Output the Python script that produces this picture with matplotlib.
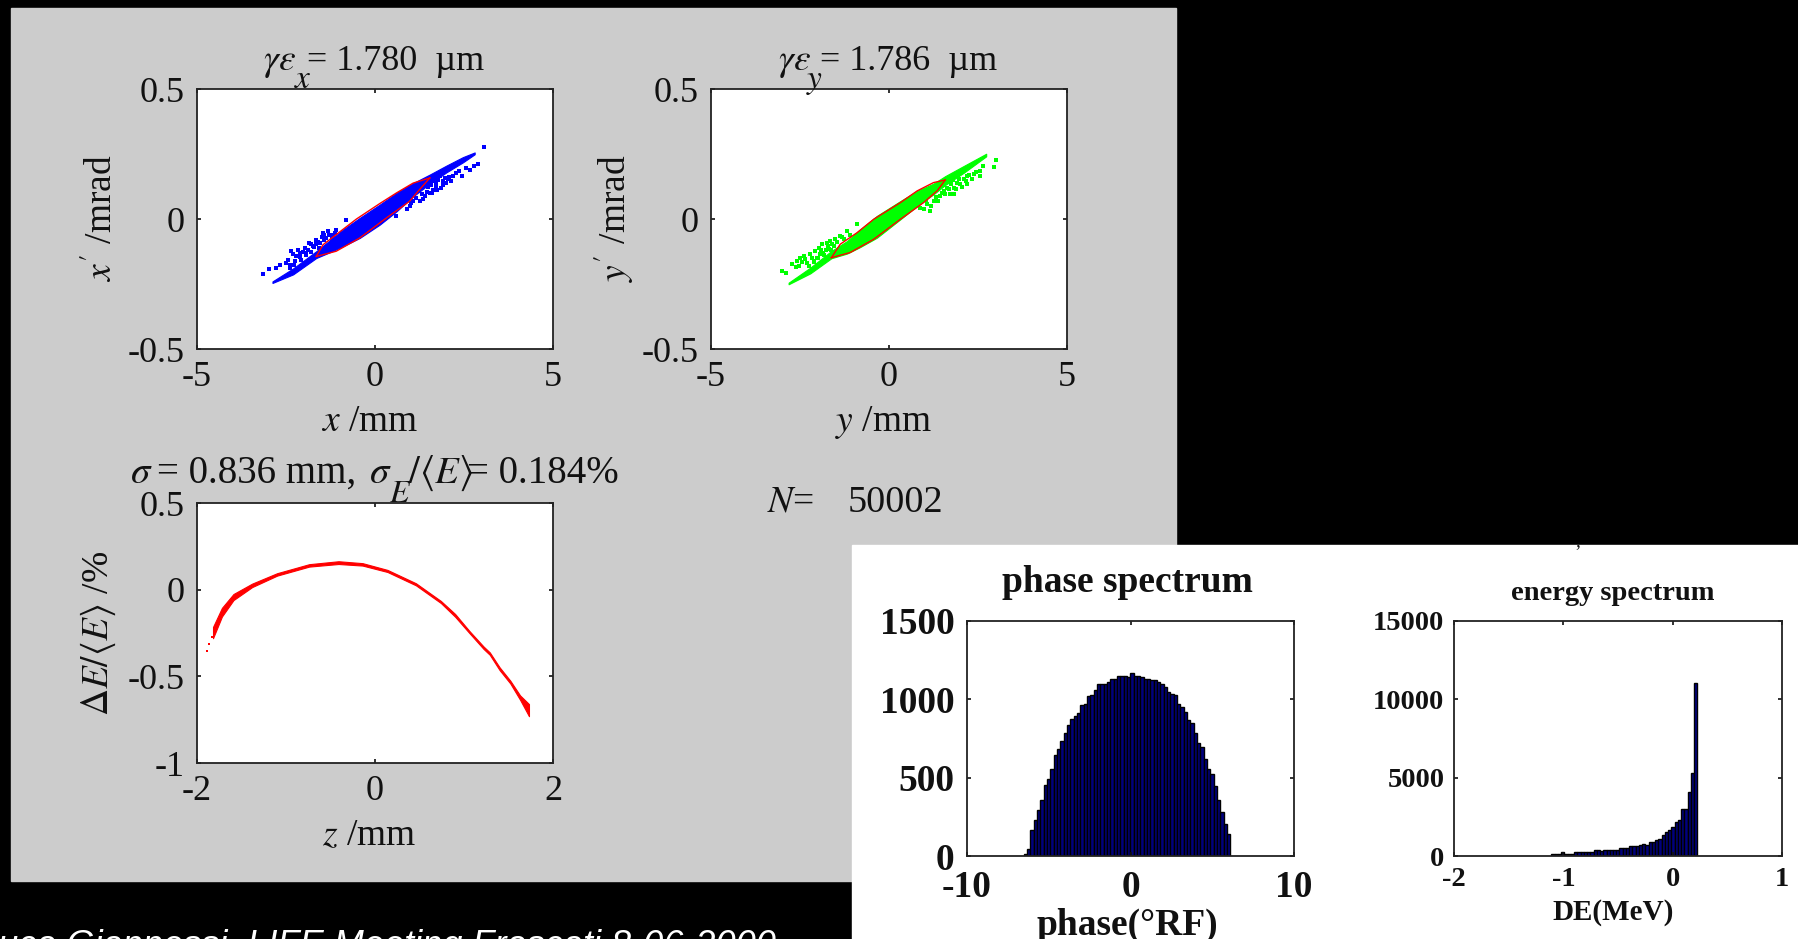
import matplotlib
matplotlib.use('Agg')
import matplotlib.pyplot as plt
from matplotlib.patches import Rectangle
import numpy as np

plt.rcParams['font.family'] = ['Liberation Serif', 'DejaVu Serif']
plt.rcParams['mathtext.fontset'] = 'stix'

W, H = 1798, 939

# x-x' phase space
blue_x = [-2.88, -2.30, -1.65, -1.27, -0.90, -0.43, 0.13, 0.60, 1.07, 1.54, 2.00, 2.47, 2.80]
blue_up = [-0.240, -0.190, -0.124, -0.082, -0.041, 0.004, 0.055, 0.100, 0.138, 0.171, 0.205, 0.238, 0.256]
blue_lo = [-0.246, -0.213, -0.150, -0.128, -0.105, -0.073, -0.022, 0.029, 0.087, 0.136, 0.179, 0.218, 0.249]
blue_dots_x = [-3.15, -2.98, -2.77, -2.68, -2.44, -2.35, -2.16, -1.98, -1.84, -1.65, -1.46, -1.32, -1.09,
               -0.81, -2.07, -2.21, -2.49, -1.93, -1.74, -1.55, -1.18, -1.37,
               -2.40, -2.30, -2.25, -2.12, -2.02, -1.88, -1.79, -1.70, -1.60, -1.50, -1.42, -1.28, -1.22, -1.12,
               -2.38, -2.28, -2.10, -1.95, -1.80, -1.66, -1.58, -1.44,
               0.60, 0.97, 1.07, 1.25, 1.40, 1.54, 1.63, 1.86, 2.00, 2.14, 2.28, 2.43, 2.66, 2.89, 3.05,
               1.82, 1.72, 1.96, 1.63,
               0.90, 1.02, 1.15, 1.32, 1.45, 1.50, 1.60, 1.70, 1.78, 1.90, 2.05, 2.20, 2.35, 2.55, 2.78,
               1.35, 1.58, 1.75, 1.92, 2.08]
blue_dots_y = [-0.212, -0.192, -0.188, -0.176, -0.156, -0.124, -0.118, -0.112, -0.092, -0.079, -0.054, -0.047,
               -0.041, -0.005, -0.156, -0.144, -0.169, -0.131, -0.105, -0.092, -0.060, -0.073,
               -0.178, -0.135, -0.160, -0.148, -0.125, -0.120, -0.098, -0.108, -0.088, -0.070, -0.082, -0.062,
               -0.075, -0.052,
               -0.190, -0.175, -0.130, -0.140, -0.125, -0.095, -0.112, -0.060,
               0.013, 0.049, 0.068, 0.068, 0.087, 0.100, 0.113, 0.119, 0.138, 0.145, 0.177, 0.164, 0.190,
               0.213, 0.277, 0.164, 0.138, 0.158, 0.145,
               0.040, 0.060, 0.082, 0.095, 0.105, 0.122, 0.100, 0.125, 0.150, 0.130, 0.155, 0.165, 0.185, 0.195, 0.205,
               0.078, 0.130, 0.110, 0.148, 0.160]
red_x_up = [-1.65, -1.46, -1.09, -0.52, 0.13, 0.60, 1.07, 1.54]
red_y_up = [-0.144, -0.099, -0.060, 0.0, 0.059, 0.100, 0.138, 0.158]
red_x_lo = [-1.65, -1.09, -0.43, 0.32, 0.97, 1.25, 1.54]
red_y_lo = [-0.144, -0.124, -0.073, 0.004, 0.068, 0.113, 0.158]

# y-y' phase space
green_x = [-2.82, -2.21, -1.62, -1.18, -0.81, -0.34, 0.32, 0.79, 1.25, 1.58, 2.10, 2.73]
green_up = [-0.245, -0.187, -0.123, -0.085, -0.040, 0.012, 0.069, 0.108, 0.136, 0.165, 0.204, 0.251]
green_lo = [-0.251, -0.209, -0.151, -0.133, -0.108, -0.072, -0.001, 0.050, 0.095, 0.131, 0.178, 0.241]
green_dots_x = [-3.01, -2.88, -2.72, -2.58, -2.49, -2.40, -2.30, -2.21, -2.07, -1.98, -1.88, -1.74, -1.65,
                -1.51, -1.37, -1.18, -0.90, -2.02, -1.84, -1.69, -2.12, -1.55, -1.27,
                -2.62, -2.44, -2.35, -2.26, -2.16, -2.10, -1.93, -1.90, -1.78, -1.72, -1.60, -1.45, -1.32, -1.10,
                -2.52, -2.00, -1.82, -1.62,
                0.88, 1.07, 1.25, 1.44, 1.58, 1.68, 1.82, 1.91, 2.10, 2.19, 2.38, 2.55, 2.57, 2.94, 3.01,
                1.82, 2.00, 2.19, 1.16, 0.97,
                1.05, 1.18, 1.32, 1.50, 1.62, 1.72, 1.75, 1.88, 1.96, 2.05, 2.15, 2.25, 2.32, 2.45, 2.65,
                1.38, 1.55, 1.80, 1.94]
green_dots_y = [-0.200, -0.206, -0.174, -0.162, -0.149, -0.142, -0.168, -0.136, -0.123, -0.110, -0.097, -0.091,
                -0.085, -0.078, -0.065, -0.046, -0.018, -0.149, -0.129, -0.117, -0.162, -0.104, -0.078,
                -0.185, -0.165, -0.155, -0.180, -0.150, -0.165, -0.135, -0.118, -0.118, -0.103, -0.095, -0.090,
                -0.070, -0.062, -0.182, -0.150, -0.140, -0.118,
                0.044, 0.056, 0.069, 0.088, 0.095, 0.114, 0.121, 0.140, 0.153, 0.165, 0.172, 0.165, 0.185,
                0.200, 0.226, 0.095, 0.133, 0.133, 0.031, 0.037,
                0.075, 0.050, 0.085, 0.100, 0.118, 0.098, 0.135, 0.115, 0.155, 0.125, 0.148, 0.170, 0.155, 0.180, 0.205,
                0.068, 0.108, 0.150, 0.165]
red2_x_up = [-1.62, -1.37, -0.90, -0.43, 0.32, 0.79, 1.25, 1.58]
red2_y_up = [-0.149, -0.097, -0.053, -0.001, 0.063, 0.108, 0.140, 0.150]
red2_x_lo = [-1.62, -1.09, -0.43, 0.32, 0.97, 1.35, 1.58]
red2_y_lo = [-0.149, -0.129, -0.078, -0.001, 0.063, 0.108, 0.150]

# z - energy
z_vals = [-1.82, -1.72, -1.59, -1.38, -1.10, -0.74, -0.41, -0.14, 0.14, 0.46, 0.74, 0.90, 1.06, 1.22, 1.29, 1.40, 1.52, 1.63, 1.73]
de_up = [-0.215, -0.105, -0.025, 0.035, 0.095, 0.147, 0.164, 0.153, 0.114, 0.037, -0.065, -0.140, -0.238, -0.328, -0.362, -0.448, -0.525, -0.610, -0.660]
de_lo = [-0.280, -0.155, -0.060, 0.015, 0.081, 0.133, 0.148, 0.139, 0.102, 0.025, -0.077, -0.156, -0.250, -0.342, -0.376, -0.464, -0.541, -0.635, -0.730]
z_dots = [-1.89, -1.86, -1.83]
de_dots = [-0.354, -0.311, -0.273]

# histograms
phase_counts = [15, 47, 164, 228, 292, 356, 452, 494, 558, 643, 686, 733, 782, 835, 873, 895, 910, 963, 973, 1023,
                1027, 1059, 1097, 1101, 1101, 1112, 1127, 1127, 1148, 1148, 1148, 1144, 1165, 1148, 1148, 1140,
                1127, 1127, 1123, 1123, 1112, 1101, 1080, 1048, 1037, 1027, 973, 952, 920, 867, 850, 782, 722,
                697, 622, 558, 526, 446, 356, 281, 207, 143]
energy_counts = [150, 150, 150, 250, 150, 150, 150, 250, 250, 250, 250, 250, 250, 360, 360, 300, 360, 360, 360, 360,
                 360, 530, 530, 530, 620, 620, 620, 680, 745, 680, 895, 895, 1000, 1100, 1320, 1530, 1680, 1850,
                 2170, 2280, 3025, 3025, 4090, 5325, 11015]


def pax(l, t, r, b):
    ax = fig.add_axes([l / W, 1 - b / H, (r - l) / W, (b - t) / H], facecolor='white', zorder=3)
    for s in ax.spines.values():
        s.set_color('#222222')
        s.set_linewidth(1.3)
    return ax


def txt(x, y, s, **kw):
    kw.setdefault('fontsize', 27)
    kw.setdefault('color', '#111111')
    kw.setdefault('va', 'baseline')
    kw.setdefault('zorder', 5)
    return fig.text(x / W, 1 - y / H, s, **kw)


def style(ax, xt, yt, xl, yl, fs, pad_x, pad_y, weight='normal'):
    ax.set_xlim(xl)
    ax.set_ylim(yl)
    ax.set_xticks(xt)
    ax.set_yticks(yt)
    ax.set_xticklabels([str(v) for v in xt])
    ax.set_yticklabels([str(v) for v in yt])
    ax.tick_params(axis='x', direction='in', top=True, length=3, width=1.2, pad=pad_x, labelsize=fs, colors='#111111')
    ax.tick_params(axis='y', direction='in', right=True, length=3, width=1.2, pad=pad_y, labelsize=fs, colors='#111111')
    for lab in ax.get_xticklabels() + ax.get_yticklabels():
        lab.set_fontweight(weight)


fig = plt.figure(figsize=(W / 100, H / 100), dpi=100, facecolor='black')
fig.add_artist(Rectangle((11 / W, 1 - 881 / H), 1165 / W, 873 / H, transform=fig.transFigure, color='#cccccc', zorder=0))
fig.add_artist(Rectangle((852 / W, 0), 946 / W, 1 - 545 / H, transform=fig.transFigure, color='white', zorder=1))

ax1 = pax(197, 89, 553, 349)
ax1.fill_between(blue_x, blue_lo, blue_up, color='#0000ff', lw=0.8)
ax1.scatter(blue_dots_x, blue_dots_y, s=5.5, marker='s', color='#0000ff', lw=0)
ax1.plot(red_x_up, red_y_up, color='#ff0000', lw=1.0)
ax1.plot(red_x_lo, red_y_lo, color='#ff0000', lw=1.0)
style(ax1, [-5, 0, 5], [-0.5, 0, 0.5], (-5, 5), (-0.5, 0.5), 26, 9, 9)

ax2 = pax(711, 89, 1067, 349)
ax2.fill_between(green_x, green_lo, green_up, color='#00ff00', lw=0.8)
ax2.scatter(green_dots_x, green_dots_y, s=5.5, marker='s', color='#00ff00', lw=0)
ax2.plot(red2_x_up, red2_y_up, color='#ff0000', lw=1.0)
ax2.plot(red2_x_lo, red2_y_lo, color='#ff0000', lw=1.0)
style(ax2, [-5, 0, 5], [-0.5, 0, 0.5], (-5, 5), (-0.5, 0.5), 26, 9, 9)

ax3 = pax(197, 503, 553, 763)
ax3.fill_between(z_vals, de_lo, de_up, color='#ff0000', lw=0.8)
ax3.scatter(z_dots, de_dots, s=3, marker='s', color='#ff0000', lw=0)
style(ax3, [-2, 0, 2], [-1, -0.5, 0, 0.5], (-2, 2), (-1, 0.5), 26, 9, 9)

ax4 = pax(967, 621, 1294, 856)
phase_w = 0.204
phase_pos = -6.54 + phase_w * (np.arange(len(phase_counts)) + 0.5)
ax4.bar(phase_pos, phase_counts, width=phase_w, color='#00007f', edgecolor='black', lw=1.0)
style(ax4, [-10, 0, 10], [0, 500, 1000, 1500], (-10, 10), (0, 1500), 27, 10, 9, 'bold')

ax5 = pax(1454, 621, 1782, 856)
energy_w = 0.0297
energy_pos = -1.11 + energy_w * (np.arange(len(energy_counts)) + 0.5)
ax5.bar(energy_pos, energy_counts, width=energy_w, color='#00007f', edgecolor='black', lw=1.0)
style(ax5, [-2, -1, 0, 1], [0, 5000, 10000, 15000], (-2, 1), (0, 15000), 20.5, 8, 7, 'bold')

# titles and labels sit where the original slide has them, pieces overlap there too
txt(263, 70, r'$\gamma\varepsilon$')
txt(294, 88, r'$x$', fontsize=24)
txt(307, 70, '= 1.780  µm', fontsize=26)
txt(778, 70, r'$\gamma\varepsilon$')
txt(806, 88, r'$y$', fontsize=24)
txt(820, 70, '= 1.786  µm', fontsize=26)

txt(130, 483, r'$\sigma$', fontsize=28)
txt(157, 483, '= 0.836 mm,', fontsize=28)
txt(369, 483, r'$\sigma$', fontsize=28)
txt(389, 502, r'$E$', fontsize=23)
txt(408, 483, r'$/\langle E\rangle$', fontsize=28)
txt(467, 483, '= 0.184%', fontsize=28)
txt(767, 512, r'$N$=')
txt(848, 512, '50002', fontsize=27.5)

txt(370, 431, r'$x$ /mm', ha='center')
txt(884, 431, r'$y$ /mm', ha='center')
txt(369, 845, r'$z$ /mm', ha='center')
txt(102, 218, r"$x'$ /mrad", rotation=90, ha='center', va='center')
txt(614, 218, r"$y'$ /mrad", rotation=90, ha='center', va='center')
txt(98, 633, r'$\Delta E/\langle E\rangle$ /%', rotation=90, ha='center', va='center')

txt(1127, 592, 'phase spectrum', fontweight='bold', fontsize=27, ha='center')
txt(1613, 600, 'energy spectrum', fontweight='bold', fontsize=20.5, ha='center')
txt(1127, 935, 'phase(°RF)', fontweight='bold', fontsize=27, ha='center')
txt(1613, 920, 'DE(MeV)', fontsize=21, ha='center', fontweight='bold')
txt(1575, 546, ',', fontsize=14)

txt(776, 956, 'Luca Giannessi, LIFE Meeting Frascati 8-06-2000', family='Liberation Sans', style='italic',
    color='white', fontsize=26, ha='right')

fig.savefig('out.png', dpi=100)
